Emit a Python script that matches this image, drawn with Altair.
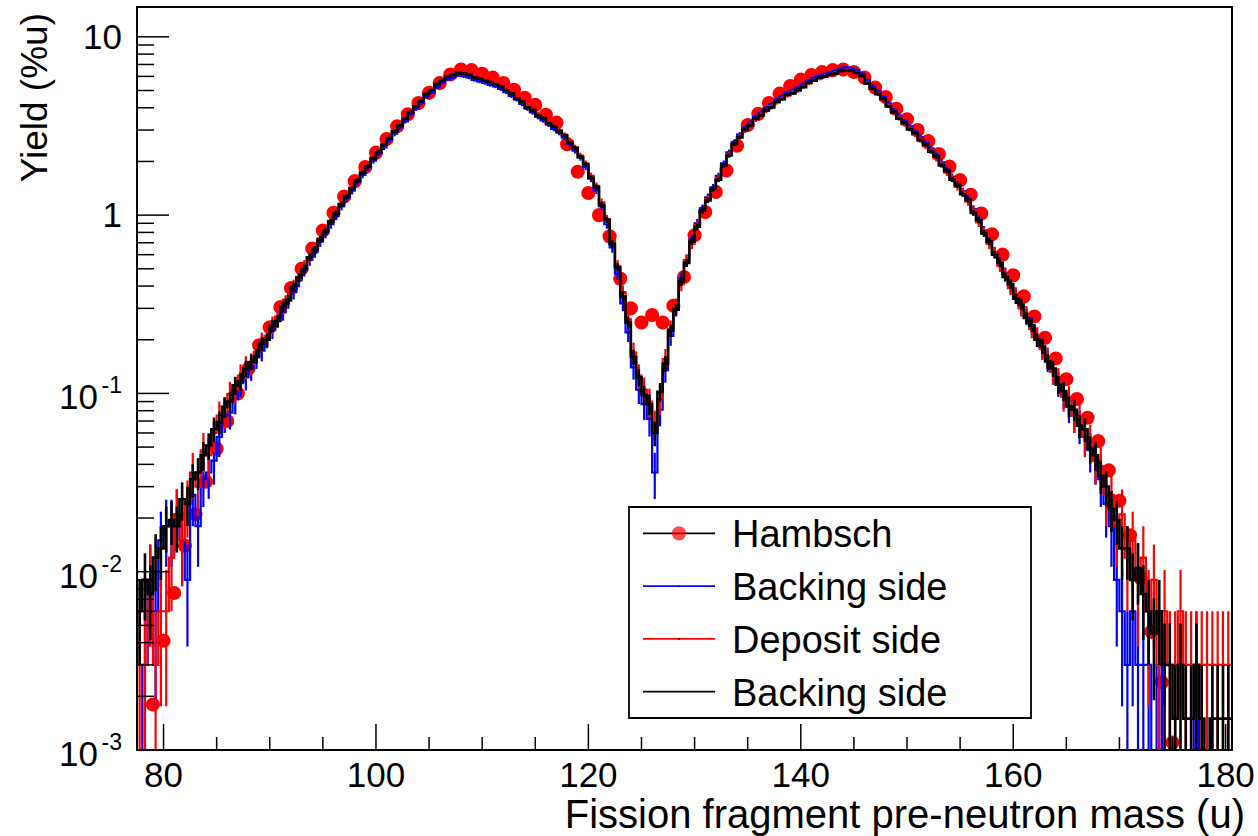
import math
import altair as alt
import pandas as pd

# ---------------------------------------------------------------------------
# Reference pre-neutron mass yields (Hambsch), one point per mass unit
# ---------------------------------------------------------------------------
hambsch_mass = list(range(79, 176))
hambsch_yield = [
    0.0018, 0.0041, 0.0076, 0.014, 0.021, 0.032, 0.049, 0.070, 0.100, 0.138,   # 79-88
    0.186, 0.235, 0.305, 0.39, 0.50, 0.65, 0.82, 1.03, 1.27, 1.55,             # 89-98
    1.86, 2.24, 2.67, 3.15, 3.68, 4.25, 4.85, 5.50, 6.15, 6.55,                # 99-108
    6.50, 6.20, 5.90, 5.50, 5.05, 4.55, 4.15, 3.65, 3.30, 2.50,                # 109-118
    1.75, 1.33, 1.00, 0.76, 0.44, 0.30, 0.25, 0.275, 0.25, 0.31,               # 119-128
    0.45, 0.77, 1.04, 1.35, 1.78, 2.45, 3.20, 3.70, 4.25, 4.80,                # 129-138
    5.30, 5.75, 6.10, 6.35, 6.50, 6.55, 6.35, 5.90, 5.20, 4.60,                # 139-148
    3.95, 3.45, 3.00, 2.60, 2.20, 1.87, 1.57, 1.30, 1.02, 0.78,                # 149-158
    0.60, 0.46, 0.35, 0.27, 0.205, 0.157, 0.12, 0.093, 0.073, 0.054,           # 159-168
    0.037, 0.025, 0.016, 0.0092, 0.0046, 0.0024, 0.0011,                       # 169-175
]

# ---------------------------------------------------------------------------
# Measured histograms: 0.5 u bins starting at 77.5 u (yield in %/u per bin)
# each row below covers 5 u (10 bins); the row comment is the row's first edge
# ---------------------------------------------------------------------------
BIN_START = 77.5
BIN_WIDTH = 0.5

backing_blue = [
    0, 0.003, 0.009, 0.006, 0.015, 0.018, 0.018, 0.021, 0.015, 0.009,          # 77.5
    0.027, 0.018, 0.033, 0.036, 0.042, 0.057, 0.075, 0.078, 0.093, 0.114,      # 82.5
    0.123, 0.138, 0.159, 0.174, 0.204, 0.228, 0.261, 0.285, 0.33, 0.37,        # 87.5
    0.43, 0.49, 0.56, 0.62, 0.71, 0.79, 0.89, 0.99, 1.12, 1.24,                # 92.5
    1.37, 1.53, 1.68, 1.85, 2.02, 2.22, 2.40, 2.64, 2.86, 3.10,                # 97.5
    3.36, 3.68, 3.95, 4.26, 4.62, 4.88, 5.22, 5.55, 5.78, 5.93,                # 102.5
    6.08, 6.02, 5.92, 5.74, 5.62, 5.52, 5.38, 5.28, 5.10, 4.90,                # 107.5
    4.66, 4.45, 4.20, 3.96, 3.77, 3.55, 3.40, 3.22, 3.05, 2.90,                # 112.5
    2.72, 2.52, 2.30, 2.10, 1.86, 1.60, 1.38, 1.12, 0.89, 0.66,                # 117.5
    0.47, 0.32, 0.22, 0.14, 0.105, 0.087, 0.072, 0.036, 0.081, 0.135,          # 122.5
    0.21, 0.30, 0.44, 0.56, 0.73, 0.90, 1.09, 1.26, 1.43, 1.66,                # 127.5
    1.95, 2.25, 2.56, 2.83, 3.09, 3.30, 3.55, 3.76, 3.98, 4.18,                # 132.5
    4.44, 4.64, 4.85, 5.02, 5.18, 5.42, 5.68, 5.88, 6.04, 6.18,                # 137.5
    6.30, 6.44, 6.62, 6.72, 6.66, 6.50, 6.20, 5.70, 5.28, 4.96,                # 142.5
    4.60, 4.24, 3.88, 3.62, 3.36, 3.15, 2.94, 2.74, 2.54, 2.37,                # 147.5
    2.17, 1.98, 1.80, 1.64, 1.49, 1.36, 1.23, 1.08, 0.94, 0.82,                # 152.5
    0.71, 0.62, 0.54, 0.47, 0.40, 0.36, 0.31, 0.27, 0.24, 0.207,               # 157.5
    0.18, 0.153, 0.132, 0.114, 0.099, 0.084, 0.075, 0.066, 0.057, 0.048,       # 162.5
    0.042, 0.033, 0.024, 0.018, 0.009, 0.006, 0.003, 0.006, 0.003, 0.003,      # 167.5
    0.003, 0, 0.003, 0, 0, 0, 0, 0, 0, 0.003,                                  # 172.5
    0, 0, 0, 0, 0, 0,                                                          # 177.5
]

deposit_red = [
    0.003, 0.003, 0.009, 0.003, 0.006, 0.006, 0.012, 0.021, 0.015, 0.024,      # 77.5
    0.036, 0.03, 0.048, 0.045, 0.06, 0.075, 0.078, 0.099, 0.105, 0.126,        # 82.5
    0.141, 0.147, 0.171, 0.195, 0.21, 0.243, 0.27, 0.31, 0.35, 0.40,           # 87.5
    0.45, 0.52, 0.58, 0.66, 0.74, 0.83, 0.93, 1.04, 1.16, 1.29,                # 92.5
    1.43, 1.59, 1.75, 1.92, 2.10, 2.30, 2.50, 2.74, 2.97, 3.22,                # 97.5
    3.50, 3.82, 4.10, 4.42, 4.80, 5.08, 5.45, 5.80, 6.02, 6.20,                # 102.5
    6.38, 6.30, 6.18, 6.00, 5.88, 5.75, 5.62, 5.50, 5.30, 5.10,                # 107.5
    4.88, 4.60, 4.38, 4.10, 3.92, 3.68, 3.53, 3.33, 3.18, 3.00,                # 112.5
    2.82, 2.60, 2.40, 2.16, 1.95, 1.66, 1.46, 1.18, 0.95, 0.72,                # 117.5
    0.52, 0.37, 0.26, 0.17, 0.126, 0.105, 0.09, 0.066, 0.093, 0.156,           # 122.5
    0.23, 0.31, 0.41, 0.56, 0.69, 0.88, 1.04, 1.23, 1.37, 1.62,                # 127.5
    1.87, 2.19, 2.47, 2.76, 2.98, 3.22, 3.43, 3.67, 3.84, 4.06,                # 132.5
    4.28, 4.52, 4.68, 4.88, 4.98, 5.27, 5.48, 5.72, 5.83, 6.02,                # 137.5
    6.08, 6.27, 6.38, 6.52, 6.42, 6.32, 5.98, 5.52, 5.08, 4.82,                # 142.5
    4.43, 4.12, 3.73, 3.52, 3.23, 3.07, 2.83, 2.67, 2.43, 2.32,                # 147.5
    2.08, 1.94, 1.73, 1.62, 1.44, 1.35, 1.19, 1.07, 0.91, 0.81,                # 152.5
    0.69, 0.62, 0.52, 0.47, 0.39, 0.36, 0.30, 0.28, 0.23, 0.21,                # 157.5
    0.177, 0.159, 0.132, 0.12, 0.096, 0.093, 0.075, 0.072, 0.057, 0.054,       # 162.5
    0.042, 0.039, 0.027, 0.027, 0.018, 0.021, 0.012, 0.015, 0.009, 0.012,     # 167.5
    0.006, 0.009, 0.003, 0.006, 0.003, 0.003, 0.006, 0.003, 0.003, 0.003,      # 172.5
    0.003, 0.003, 0.003, 0.003, 0.003, 0.003,                                  # 177.5
]

backing_black = [
    0.006, 0.009, 0.0075, 0.012, 0.0135, 0.018, 0.0195, 0.018, 0.0255, 0.024,  # 77.5
    0.033, 0.036, 0.045, 0.051, 0.063, 0.069, 0.084, 0.09, 0.111, 0.117,       # 82.5
    0.138, 0.15, 0.162, 0.19, 0.2, 0.24, 0.255, 0.305, 0.335, 0.395,           # 87.5
    0.445, 0.50, 0.58, 0.64, 0.73, 0.81, 0.92, 1.02, 1.15, 1.27,               # 92.5
    1.41, 1.56, 1.73, 1.88, 2.08, 2.26, 2.48, 2.70, 2.95, 3.18,                # 97.5
    3.47, 3.78, 4.08, 4.37, 4.78, 5.02, 5.43, 5.72, 5.98, 6.12,                # 102.5
    6.32, 6.22, 6.13, 5.92, 5.83, 5.67, 5.58, 5.42, 5.28, 5.02,                # 107.5
    4.83, 4.52, 4.33, 4.02, 3.88, 3.62, 3.50, 3.27, 3.15, 2.95,                # 112.5
    2.80, 2.55, 2.38, 2.12, 1.93, 1.62, 1.44, 1.14, 0.94, 0.69,                # 117.5
    0.51, 0.35, 0.25, 0.16, 0.123, 0.098, 0.087, 0.06, 0.102, 0.147,           # 122.5
    0.225, 0.295, 0.425, 0.54, 0.71, 0.86, 1.06, 1.21, 1.40, 1.58,             # 127.5
    1.90, 2.16, 2.50, 2.73, 3.02, 3.18, 3.47, 3.63, 3.88, 4.02,                # 132.5
    4.33, 4.47, 4.73, 4.82, 5.04, 5.22, 5.53, 5.67, 5.89, 5.97,                # 137.5
    6.13, 6.22, 6.43, 6.47, 6.48, 6.27, 6.03, 5.47, 5.13, 4.77,                # 142.5
    4.48, 4.07, 3.78, 3.47, 3.28, 3.02, 2.88, 2.62, 2.48, 2.27,                # 147.5
    2.13, 1.90, 1.77, 1.58, 1.47, 1.31, 1.22, 1.03, 0.94, 0.79,                # 152.5
    0.71, 0.60, 0.54, 0.45, 0.41, 0.34, 0.315, 0.265, 0.24, 0.20,              # 157.5
    0.183, 0.151, 0.138, 0.112, 0.103, 0.085, 0.081, 0.066, 0.063, 0.049,      # 162.5
    0.045, 0.0345, 0.03, 0.0225, 0.0195, 0.0135, 0.0135, 0.009, 0.0105, 0.0075,  # 167.5
    0.006, 0.0045, 0.006, 0.003, 0.003, 0.0015, 0.003, 0.0015, 0.0015, 0.003,  # 172.5
    0.0015, 0, 0.0015, 0.0015, 0.0015, 0.0015,                                 # 177.5
]

# yield carried by a single count in each histogram (sets the Poisson error bars)
count_unit = {"blue": 0.003, "red": 0.003, "black": 0.0015}

# axis ticks and labels
x_label_values = [80, 100, 120, 140, 160, 180]
y_decades = [10, 1, 0.1, 0.01, 0.001]
y_label_base = ["10", "1", "10", "10", "10"]
y_label_exp = ["", "", "-1", "-2", "-3"]
x_title = "Fission fragment pre-neutron mass (u)"
y_title = "Yield (%u)"

legend_labels = ["Hambsch", "Backing side", "Deposit side", "Backing side"]
legend_colors = ["black", "#0000ff", "#ff0000", "black"]

# ---------------------------------------------------------------------------
FONT = "Liberation Sans"
W, H = 1095, 743
Y_FLOOR = 1e-4   # empty bins and error bars reaching zero fall below the frame

xs = alt.Scale(domain=[77.5, 180.6], nice=False, zero=False)
ys = alt.Scale(type="log", domain=[0.001, 14.7], nice=False)


def step_frame(values):
    """Outline of the histogram: two points per bin, empty bins drop out of view."""
    rows = []
    for i, y in enumerate(values):
        edge = BIN_START + i * BIN_WIDTH
        level = y if y > 0 else Y_FLOOR
        rows.append({"i": 2 * i, "x": edge, "y": level})
        rows.append({"i": 2 * i + 1, "x": edge + BIN_WIDTH, "y": level})
    return pd.DataFrame(rows)


def error_frame(values, unit):
    rows = []
    for i, y in enumerate(values):
        if y <= 0:
            continue
        centre = BIN_START + (i + 0.5) * BIN_WIDTH
        err = math.sqrt(y * unit)
        rows.append({"xc": centre, "ylo": max(y - err, Y_FLOOR), "yhi": y + err})
    return pd.DataFrame(rows)


def hist_layers(values, unit, color, width):
    outline = alt.Chart(step_frame(values)).mark_line(
        color=color, strokeWidth=width, clip=True, strokeJoin="miter"
    ).encode(
        x=alt.X("x:Q", scale=xs, axis=None),
        y=alt.Y("y:Q", scale=ys, axis=None),
        order="i:Q",
    )
    errs = alt.Chart(error_frame(values, unit)).mark_rule(
        color=color, strokeWidth=width, clip=True
    ).encode(
        x=alt.X("xc:Q", scale=xs, axis=None),
        y=alt.Y("ylo:Q", scale=ys, axis=None),
        y2="yhi:Q",
    )
    return [outline, errs]


hambsch_df = pd.DataFrame({"mass": hambsch_mass, "yield": hambsch_yield})
hambsch = alt.Chart(hambsch_df).mark_point(
    filled=True, size=200, color="#ff0000", opacity=1, strokeWidth=0, clip=True
).encode(
    x=alt.X("mass:Q", scale=xs, axis=None),
    y=alt.Y("yield:Q", scale=ys, axis=None),
)

layers = [hambsch]
layers += hist_layers(backing_blue, count_unit["blue"], "#0000ff", 2.2)
layers += hist_layers(deposit_red, count_unit["red"], "#ff0000", 2.2)
layers += hist_layers(backing_black, count_unit["black"], "black", 2.6)

# tick marks drawn inside the frame (left and bottom only)
y_major = [10.0 ** k for k in range(-3, 2)]
y_minor = [m * 10.0 ** k for k in range(-3, 2) for m in range(2, 10) if m * 10.0 ** k < 14.7]
x_major = list(range(80, 181, 20))
x_minor = [v for v in range(80, 181, 5) if v % 20]


def ytick(vals, length):
    return alt.Chart(pd.DataFrame({"v": vals})).mark_rule(color="black", strokeWidth=1.5).encode(
        y=alt.Y("v:Q", scale=ys, axis=None), x=alt.value(0), x2=alt.value(length))


def xtick(vals, length):
    return alt.Chart(pd.DataFrame({"v": vals})).mark_rule(color="black", strokeWidth=1.5).encode(
        x=alt.X("v:Q", scale=xs, axis=None), y=alt.value(H), y2=alt.value(H - length))


layers += [ytick(y_major, 32), ytick(y_minor, 17), xtick(x_major, 26), xtick(x_minor, 13)]

# mass labels under the frame
layers.append(
    alt.Chart(pd.DataFrame({"v": x_label_values})).mark_text(
        font=FONT, fontSize=35, align="center", baseline="middle", color="black"
    ).encode(x=alt.X("v:Q", scale=xs, axis=None), y=alt.value(H + 26), text="v:Q")
)

# decade labels on the log axis, with raised exponents
ylab = pd.DataFrame({"v": y_decades, "base": y_label_base, "exp": y_label_exp})
ylab_chart = alt.Chart(ylab)
layers.append(
    ylab_chart.transform_filter("datum.exp == ''").mark_text(
        font=FONT, fontSize=35, align="right", baseline="middle", dy=1, color="black"
    ).encode(y=alt.Y("v:Q", scale=ys, axis=None), x=alt.value(-15), text="base:N")
)
layers.append(
    ylab_chart.transform_filter("datum.exp != ''").mark_text(
        font=FONT, fontSize=35, align="right", baseline="middle", dy=5, color="black"
    ).encode(y=alt.Y("v:Q", scale=ys, axis=None), x=alt.value(-39), text="base:N")
)
layers.append(
    ylab_chart.transform_filter("datum.exp != ''").mark_text(
        font=FONT, fontSize=23, align="right", baseline="middle", dy=-7, color="black"
    ).encode(y=alt.Y("v:Q", scale=ys, axis=None), x=alt.value(-15), text="exp:N")
)

one = pd.DataFrame({"k": [0]})

# axis titles (ROOT style: flush with the far end of each axis)
layers.append(
    alt.Chart(one).mark_text(
        font=FONT, fontSize=40, align="right", baseline="alphabetic", color="black"
    ).encode(x=alt.value(W + 13), y=alt.value(H + 78), text=alt.value(x_title))
)
layers.append(
    alt.Chart(one).mark_text(
        font=FONT, fontSize=37, align="right", baseline="alphabetic", angle=270, color="black"
    ).encode(x=alt.value(-90), y=alt.value(6), text=alt.value(y_title))
)

# legend box
LEG_X0, LEG_X1, LEG_Y0, LEG_Y1 = 492, 894, 500, 711
layers.append(
    alt.Chart(one).mark_rect(fill="white", stroke="black", strokeWidth=1.8).encode(
        x=alt.value(LEG_X0), x2=alt.value(LEG_X1), y=alt.value(LEG_Y0), y2=alt.value(LEG_Y1))
)
row_gap = (LEG_Y1 - LEG_Y0) / 4
for i, (label, color) in enumerate(zip(legend_labels, legend_colors)):
    ry = LEG_Y0 + row_gap * (i + 0.5)
    layers.append(alt.Chart(one).mark_rule(color=color, strokeWidth=1.6).encode(
        x=alt.value(506), x2=alt.value(578), y=alt.value(ry)))
    if i == 0:
        layers.append(alt.Chart(one).mark_point(filled=True, size=200, color="#ff0000", strokeWidth=0).encode(
            x=alt.value(542), y=alt.value(ry)))
    elif i in (1, 2):
        layers.append(alt.Chart(one).mark_point(filled=True, size=4, color="black", strokeWidth=0).encode(
            x=alt.value(542), y=alt.value(ry)))
    layers.append(alt.Chart(one).mark_text(
        font=FONT, fontSize=38, align="left", baseline="alphabetic", color="black"
    ).encode(x=alt.value(595), y=alt.value(ry + 14), text=alt.value(label)))

chart = alt.layer(*layers).properties(
    width=W, height=H,
    padding={"left": 137, "top": 7, "right": 26, "bottom": 86},
    autosize=alt.AutoSizeParams(type="none"),
    background="white",
).configure_view(stroke="black", strokeWidth=2)

chart.save("out.html", embed_options={"renderer": "svg", "actions": False})
